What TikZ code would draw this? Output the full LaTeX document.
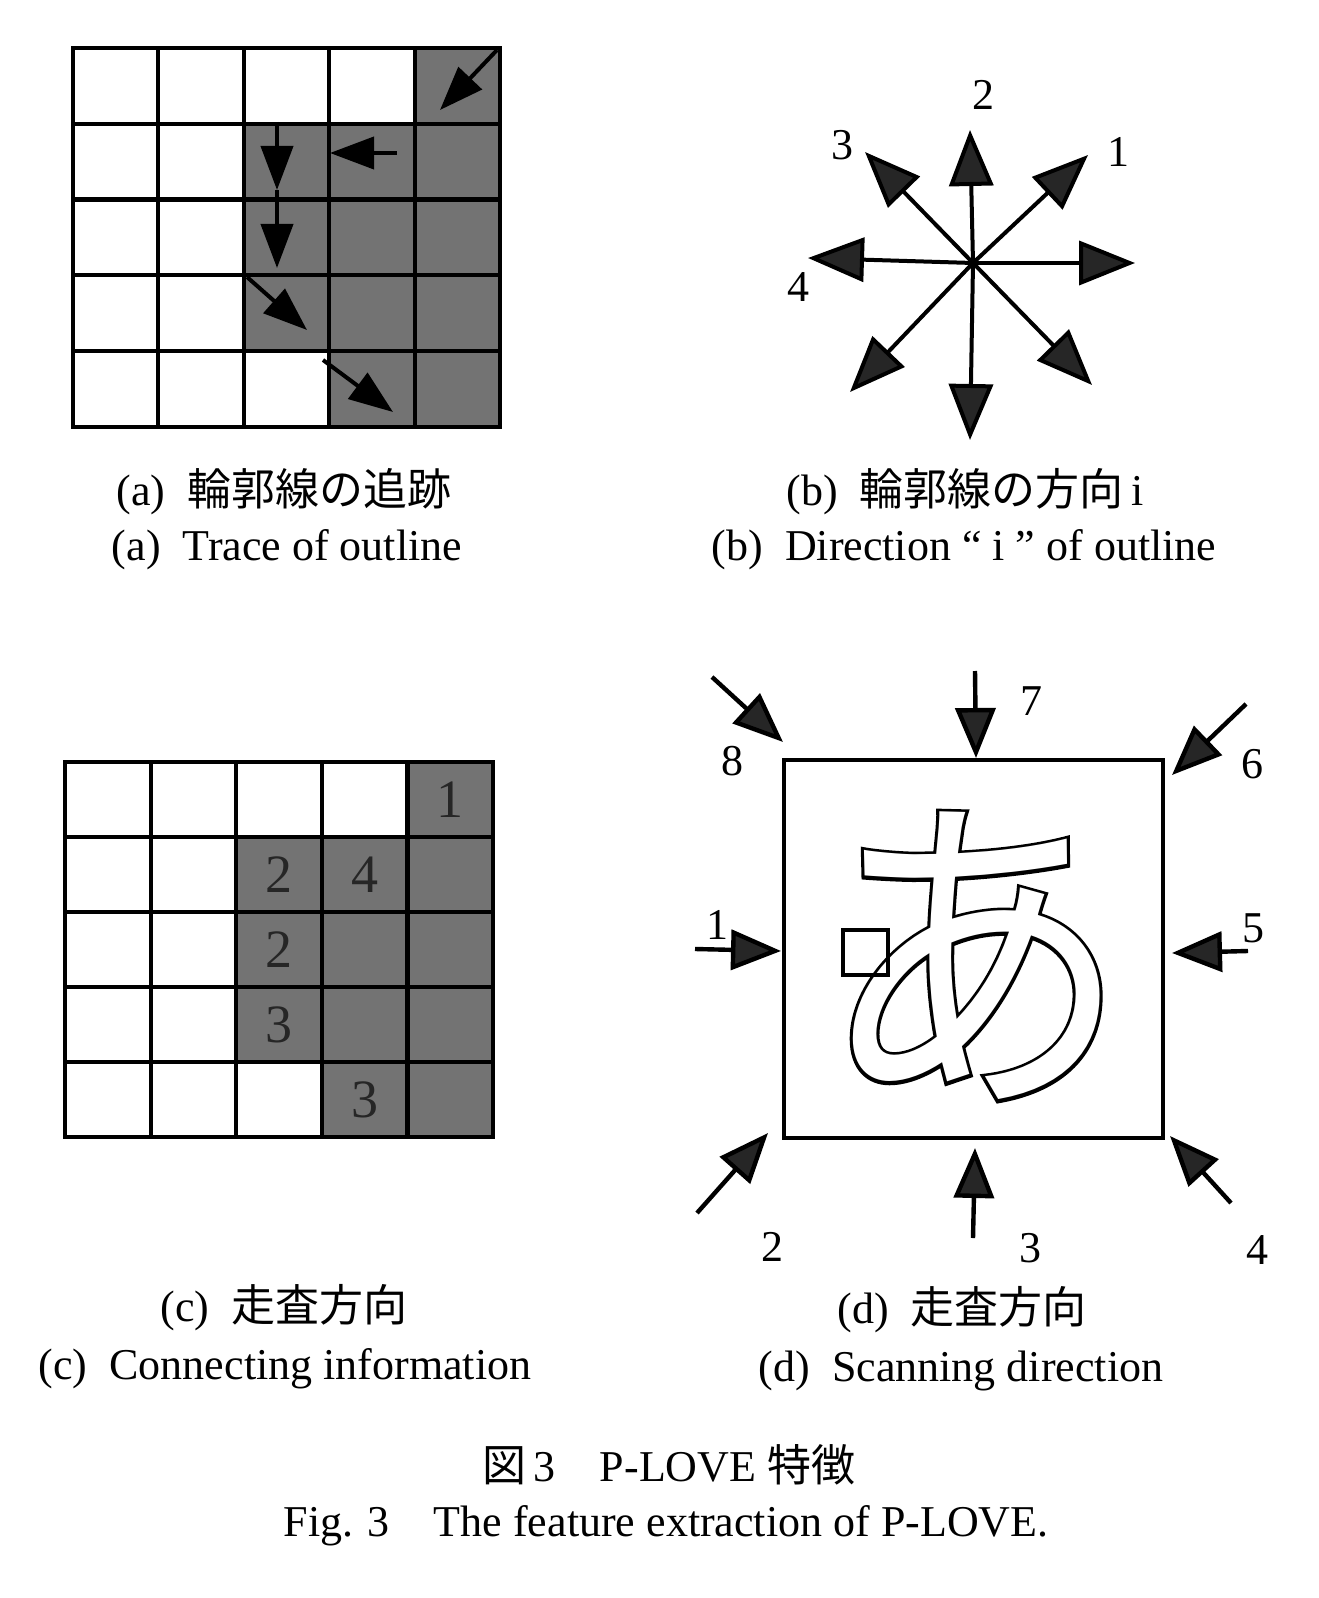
\documentclass[tikz,border=0pt]{standalone}
\usepackage{fontspec}
\usepackage{graphicx}
\setmainfont{Liberation Serif}
\newfontfamily\jp{Noto Sans CJK JP}
\newfontfamily\jpbold[FakeBold=2]{Noto Sans CJK JP}
\usetikzlibrary{arrows.meta,calc}

\begin{document}
\begin{tikzpicture}[x=0.5pt,y=-0.5pt,
every node/.style = {font=\fontsize{22}{26}\selectfont},
cell/.style = {draw,line width=2pt,minimum width=42.7pt,minimum height=37.8pt,inner sep=0pt},
dark/.style = {cell,fill=black!55},
num/.style = {text=black!85,inner sep=0pt,font=\fontsize{27}{30}\selectfont},
trace/.style = {line width=2pt,-{Triangle[length=22pt,width=16pt]}},
dir/.style = {line width=2pt,-{Triangle[length=28pt,width=22pt,fill=black!85]}},
scan/.style = {line width=2.2pt,-{Triangle[length=25pt,width=20pt,fill=black!85]}}
]
  \useasboundingbox (0,0) rectangle (1318,1598);

  % (a) trace of outline
  \foreach \r in {0,...,4}
    \foreach \c in {0,...,4}
      \node[cell] (a\r\c) at ({73+85.4*(\c+0.5)},{48+75.8*(\r+0.5)}) {};
  \foreach \r/\c in {0/4,1/2,1/3,1/4,2/2,2/3,2/4,3/2,3/3,3/4,4/3,4/4}
    \node[dark] (ad\r\c) at (a\r\c) {};
  \coordinate (t0) at (497,50);  \coordinate (t1) at (440,110);
  \coordinate (t2) at (397,153); \coordinate (t3) at (330,153);
  \coordinate (t4) at (277,122); \coordinate (t5) at (277,190);
  \coordinate (t6) at (277,268); \coordinate (t7) at (247,277);
  \coordinate (t8) at (307,330); \coordinate (t9) at (323,360);
  \coordinate (t10) at (393,412);
  \draw[trace] (t0) -- (t1);
  \draw[trace] (t2) -- (t3);
  \draw[trace] (t4) -- (t5);
  \draw[trace] (t5) -- (t6);
  \draw[trace] (t7) -- (t8);
  \draw[trace] (t9) -- (t10);

  % (b) direction i
  \coordinate (o) at (973,263);
  \foreach \dx/\dy [count=\i] in {115/-108,-3/-133,-108/-111,-165/-5,-123/129,-3/177,119/122,162/0}
    \coordinate (b\i) at ($(o)+(\dx,\dy)$);
  \foreach \i in {1,...,8}
    \draw[dir] (o) -- (b\i);
  \node (l1) at (1118,152) {1};
  \node (l2) at (983,95) {2};
  \node (l3) at (842,145) {3};
  \node (l4) at (798,287) {4};

  % (c) connecting information
  \foreach \r in {0,...,4}
    \foreach \c in {0,...,4}
      \node[cell] (c\r\c) at ({65+85.6*(\c+0.5)},{762+75*(\r+0.5)}) {};
  \foreach \r/\c in {0/4,1/2,1/3,1/4,2/2,2/3,2/4,3/2,3/3,3/4,4/3,4/4}
    \node[dark] (cd\r\c) at (c\r\c) {};
  \node[num] (n1) at (c04) {1};
  \node[num] (n2) at (c12) {2};
  \node[num] (n3) at (c13) {4};
  \node[num] (n4) at (c22) {2};
  \node[num] (n5) at (c32) {3};
  \node[num] (n6) at (c43) {3};

  % (d) scanning direction
  \node[draw,line width=2pt,minimum width=189.5pt,minimum height=189pt,inner sep=0pt] (box) at (973.5,949) {};
  \node[font=\jpbold\fontsize{155}{155}\selectfont,inner sep=0pt] (ch) at (974,956) {\scalebox{1}[1.1]{あ}};
  \node[font=\jp\fontsize{155}{155}\selectfont,text=white,inner sep=0pt] (chw) at (ch) {\scalebox{1}[1.1]{あ}};
  \node[draw,line width=2pt,minimum size=22.5pt,inner sep=0pt] (sq) at (865.5,952.5) {};
  \coordinate (s1) at (695,949);   \coordinate (e1) at (781,951);
  \coordinate (s2) at (697,1213);  \coordinate (e2) at (768,1133);
  \coordinate (s3) at (973,1238);  \coordinate (e3) at (975,1148);
  \coordinate (s4) at (1231,1203); \coordinate (e4) at (1170,1136);
  \coordinate (s5) at (1248,951);  \coordinate (e5) at (1172,953);
  \coordinate (s6) at (1246,704);  \coordinate (e6) at (1172,775);
  \coordinate (s7) at (975,671);   \coordinate (e7) at (976,758);
  \coordinate (s8) at (712,677);   \coordinate (e8) at (783,742);
  \foreach \i in {1,...,8}
    \draw[scan] (s\i) -- (e\i);
  \node (m1) at (717,925) {1};
  \node (m2) at (772,1247) {2};
  \node (m3) at (1030,1248) {3};
  \node (m4) at (1257,1250) {4};
  \node (m5) at (1253,928) {5};
  \node (m6) at (1252,764) {6};
  \node (m7) at (1031,701) {7};
  \node (m8) at (732,761) {8};

  % captions
  \node (capaj) at (284,492) {(a)\enspace{\jp 輪郭線の追跡}};
  \node (capae) at (287,550) {(a)\enspace Trace of outline};
  \node (capbj) at (965,492) {(b)\enspace{\jp 輪郭線の方向}\,i};
  \node (capbe) at (964,550) {(b)\enspace Direction “ i ” of outline};
  \node (capcj) at (284,1308) {(c)\enspace{\jp 走査方向}};
  \node (capce) at (285,1369) {(c)\enspace Connecting information};
  \node (capdj) at (962,1310) {(d)\enspace{\jp 走査方向}};
  \node (capde) at (961,1371) {(d)\enspace Scanning direction};
  \node (figj) at (669,1465) {{\jp 図}\,3\quad P-LOVE {\jp 特徴}};
  \node (fige) at (666,1526) {Fig. 3\quad The feature extraction of P-LOVE.};
\end{tikzpicture}
\end{document}
